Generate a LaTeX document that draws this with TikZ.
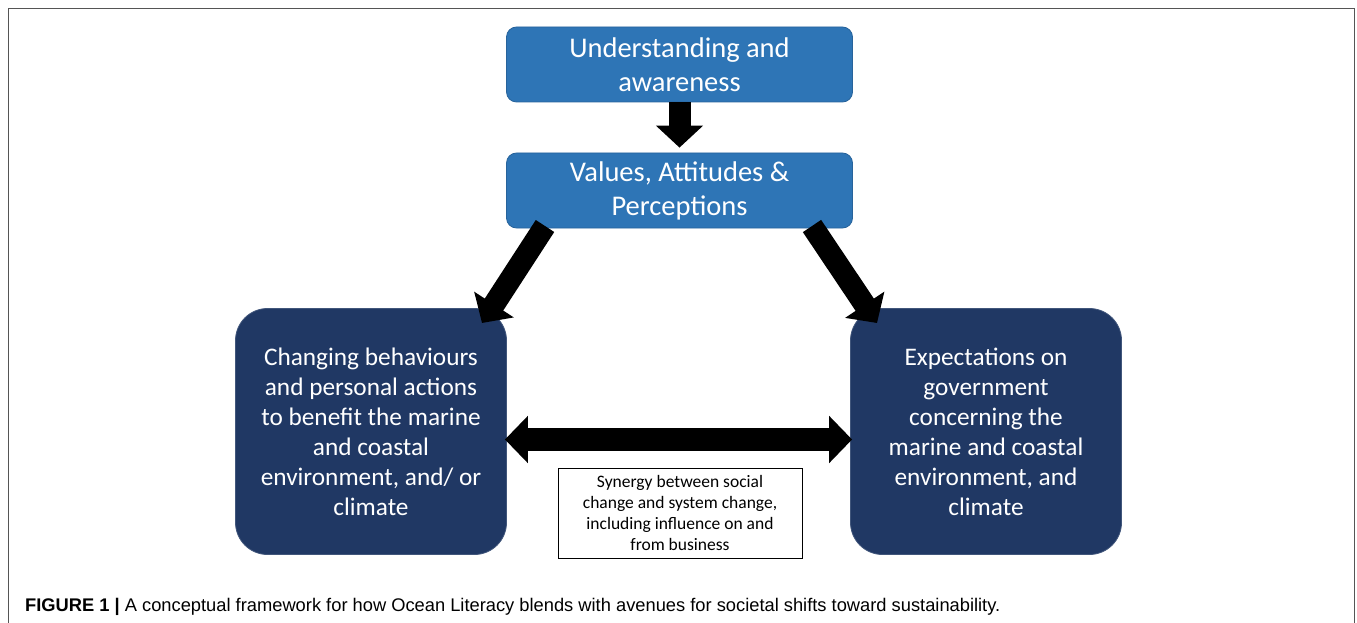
\documentclass[tikz,border=0pt]{standalone}
\usepackage{fontspec}
\setmainfont{Carlito}
\newfontfamily\capfont{Liberation Sans}
\usetikzlibrary{arrows.meta}
\definecolor{topblue}{HTML}{2E75B6}
\definecolor{navy}{HTML}{203864}
\definecolor{framegray}{HTML}{555555}
\tikzset{
  topbox/.style={rectangle, rounded corners=10pt, fill=topblue, draw=topblue!85!black, line width=0.8pt,
    minimum width=346pt, minimum height=75pt, text=white, align=center, font=\fontsize{28.5}{34}\selectfont, inner sep=0pt},
  bigbox/.style={rectangle, rounded corners=32pt, fill=navy, draw=navy!85!white, line width=0.8pt,
    minimum width=271pt, minimum height=246pt, text=white, align=center, font=\fontsize{25.3}{30}\selectfont, inner sep=0pt},
  notebox/.style={rectangle, draw=black, line width=1pt, fill=white,
    minimum width=244pt, minimum height=90pt, align=center, font=\fontsize{17.5}{21}\selectfont, inner sep=0pt},
  blockarrow/.style={line width=22pt, draw=black, -{Triangle[length=22pt,width=46pt]}},
  blockarrows/.style={line width=23pt, draw=black, {Triangle[length=23pt,width=46pt]}-{Triangle[length=23pt,width=46pt]}},
}
\begin{document}
\begin{tikzpicture}[x=1pt,y=-1pt]
\useasboundingbox (0,0) rectangle (1357,623);
\draw[framegray, line width=1.5pt] (8.5,623) -- (8.5,8.5) -- (1354.5,8.5) -- (1354.5,623);

\node[topbox] (und) at (679.5,64.5) {Understanding and\\awareness};
\node[topbox] (val) at (679.5,190.5) {Values, Attitudes \&\\Perceptions};
\node[bigbox] (beh) at (371,431.5) {Changing behaviours\\and personal actions\\to benefit the marine\\and coastal\\environment, and/ or\\climate};
\node[bigbox] (gov) at (986,431.5) {Expectations on\\government\\concerning the\\marine and coastal\\environment, and\\climate};
\node[notebox] (syn) at (680,513) {Synergy between social\\change and system change,\\including influence on and\\from business};

\coordinate (ls) at (545,226);
\coordinate (lt) at (482,323);
\coordinate (rs) at (812,226);
\coordinate (rt) at (877,323);

\draw[blockarrow] (und.south) -- ([yshift=5pt]val.north);
\draw[blockarrow] (ls) -- (lt);
\draw[blockarrow] (rs) -- (rt);
\draw[blockarrows] ([xshift=-2pt,yshift=-8pt]beh.east) -- ([xshift=2pt,yshift=-8pt]gov.west);

\node[anchor=base west, font=\capfont\fontsize{18.3}{22}\selectfont, inner sep=0pt] (cap) at (25,611)
  {\textbf{FIGURE 1 |} A conceptual framework for how Ocean Literacy blends with avenues for societal shifts toward sustainability.};
\end{tikzpicture}
\end{document}
